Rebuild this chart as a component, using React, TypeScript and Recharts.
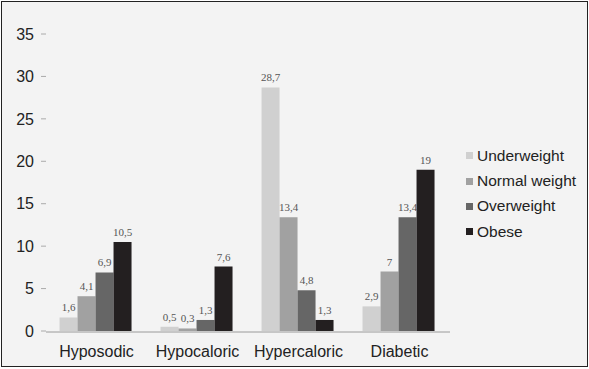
import { BarChart, Bar, XAxis, YAxis, Legend, LabelList } from "recharts"

const categories = ["Hyposodic", "Hypocaloric", "Hypercaloric", "Diabetic"]
const underweight = [1.6, 0.5, 28.7, 2.9]
const normalWeight = [4.1, 0.3, 13.4, 7]
const overweight = [6.9, 1.3, 4.8, 13.4]
const obese = [10.5, 7.6, 1.3, 19]
const yTicks = [0, 5, 10, 15, 20, 25, 30, 35]
const boundaryTicks = [0, 1, 2, 3, 4]

const series = [
  { key: "underweight", name: "Underweight", color: "#d0d0d0" },
  { key: "normalWeight", name: "Normal weight", color: "#a1a1a1" },
  { key: "overweight", name: "Overweight", color: "#666666" },
  { key: "obese", name: "Obese", color: "#231f20" },
]

const data = categories.map((name, i) => ({
  name,
  idx: i + 0.5,
  underweight: underweight[i],
  normalWeight: normalWeight[i],
  overweight: overweight[i],
  obese: obese[i],
}))

const fmt = (v: number) => String(v).replace(".", ",")
const sans = "'Liberation Sans', Arial, sans-serif"

function LegendBox() {
  return (
    <div style={{ fontFamily: sans, fontSize: 15.5, color: "#222" }}>
      {series.map((s) => (
        <div key={s.key} style={{ display: "flex", alignItems: "center", height: 25.4 }}>
          <span style={{ width: 7, height: 7, background: s.color, marginRight: 4, display: "inline-block" }} />
          <span>{s.name}</span>
        </div>
      ))}
    </div>
  )
}

export default function App() {
  return (
    <div style={{ position: "absolute", left: 0, top: 0, width: 589, height: 369, background: "#fff" }}>
      <div
        style={{
          position: "absolute",
          left: 1,
          top: 1,
          width: 587,
          height: 366,
          boxSizing: "border-box",
          border: "1px solid #222",
          background: "#f3f3f3",
        }}
      />
      <div style={{ position: "absolute", left: 0, top: 0 }}>
        <BarChart
          width={589}
          height={369}
          data={data}
          margin={{ top: 34, right: 19, bottom: 9, left: 0 }}
          barCategoryGap="13.4%"
          barGap={0}
        >
          <XAxis
            dataKey="name"
            height={1}
            axisLine={false}
            tickLine={false}
            tickMargin={9}
            tick={{ fill: "#222", fontSize: 16, fontFamily: sans }}
          />
          <XAxis
            xAxisId="bounds"
            type="number"
            dataKey="idx"
            domain={[0, 4]}
            ticks={boundaryTicks}
            allowDataOverflow
            height={28}
            tick={false}
            tickSize={6}
            axisLine={{ stroke: "#9a9a9a" }}
            tickLine={{ stroke: "#9a9a9a" }}
          />
          <YAxis
            width={46}
            domain={[0, 35]}
            ticks={yTicks}
            axisLine={false}
            tickSize={5}
            tickMargin={7}
            tickLine={{ stroke: "#aaa" }}
            tick={{ fill: "#222", fontSize: 16, fontFamily: sans }}
          />
          <Legend
            layout="vertical"
            align="right"
            verticalAlign="middle"
            content={<LegendBox />}
            wrapperStyle={{ width: 120, left: 466, top: 143 }}
          />
          {series.map((s) => (
            <Bar key={s.key} dataKey={s.key} name={s.name} fill={s.color} isAnimationActive={false}>
              <LabelList
                dataKey={s.key}
                position="top"
                offset={6}
                formatter={(v: any) => fmt(v)}
                style={{ fill: "#555", fontSize: 11, fontFamily: "'Liberation Serif', 'Times New Roman', serif" }}
              />
            </Bar>
          ))}
        </BarChart>
      </div>
    </div>
  )
}
